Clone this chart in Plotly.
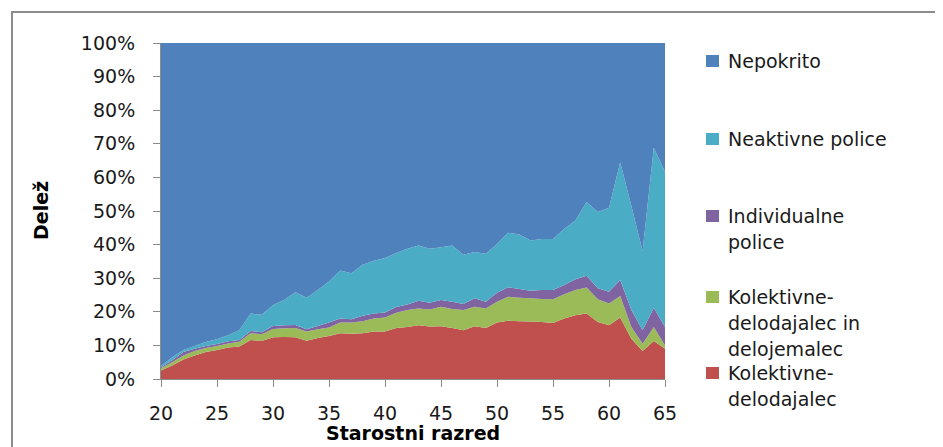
import plotly.graph_objects as go

# starostni razred (leta)
ages = list(range(20, 66))

# delez po vrsti kritja, v %
kol_delodajalec = [2.5, 4.0, 5.8, 7.0, 8.0, 8.6, 9.4, 9.7, 11.6, 11.3,
                   12.4, 12.5, 12.4, 11.4, 12.2, 12.8, 13.6, 13.5, 13.6, 14.1,
                   14.1, 15.2, 15.5, 16.0, 15.6, 15.7, 15.2, 14.5, 15.7, 15.2,
                   16.8, 17.3, 17.2, 17.1, 17.0, 16.7, 18.0, 19.0, 19.5, 17.0,
                   16.0, 18.3, 12.0, 8.3, 11.3, 9.0]
kol_del_in_delojemalec = [0.7, 1.0, 1.2, 1.3, 1.2, 1.2, 1.2, 1.4, 2.0, 2.0,
                          2.5, 2.6, 2.8, 2.7, 2.6, 2.5, 3.2, 3.3, 3.6, 3.9,
                          4.2, 4.5, 5.0, 5.0, 5.1, 5.8, 5.6, 6.0, 5.8, 5.8,
                          6.2, 7.2, 7.0, 6.9, 6.8, 7.0, 7.2, 7.5, 7.7, 6.7,
                          6.5, 6.4, 3.5, 2.2, 4.2, 1.0]
individualne = [0.3, 0.6, 1.0, 0.7, 0.6, 0.6, 0.6, 0.5, 0.7, 0.6,
                0.9, 0.9, 0.9, 0.7, 1.0, 1.5, 1.2, 1.0, 1.6, 1.5,
                1.5, 1.7, 1.7, 2.3, 2.0, 2.0, 2.2, 1.8, 2.5, 2.0,
                2.7, 2.8, 2.6, 2.3, 2.7, 2.8, 2.8, 3.2, 3.5, 3.3,
                3.5, 4.8, 5.0, 4.0, 5.7, 5.5]
neaktivne = [0.4, 0.9, 0.6, 0.8, 1.2, 1.4, 1.8, 3.0, 5.2, 5.2,
             6.2, 7.5, 9.7, 9.4, 10.7, 12.2, 14.3, 13.7, 15.2, 15.7,
             16.2, 16.1, 16.6, 16.4, 16.1, 15.7, 16.7, 14.7, 13.8, 14.3,
             14.5, 16.2, 16.2, 14.9, 15.2, 15.2, 16.7, 17.5, 22.0, 22.7,
             25.0, 35.0, 31.0, 23.5, 47.6, 46.1]
nepokrito = [96.1, 93.5, 91.4, 90.2, 89.0, 88.2, 87.0, 85.4, 80.5, 80.9,
             78.0, 76.5, 74.2, 75.8, 73.5, 71.0, 67.7, 68.5, 66.0, 64.8,
             64.0, 62.5, 61.2, 60.3, 61.2, 60.8, 60.3, 63.0, 62.2, 62.7,
             59.8, 56.5, 57.0, 58.8, 58.3, 58.3, 55.3, 52.8, 47.3, 50.3,
             49.0, 35.5, 48.5, 62.0, 31.2, 38.4]

y_ticks = list(range(0, 101, 10))
y_ticktext = [f"{v}%" for v in y_ticks]

names = ["Kolektivne-delodajalec", "Kolektivne-delodajalec in delojemalec",
         "Individualne police", "Neaktivne police", "Nepokrito"]
values = [kol_delodajalec, kol_del_in_delojemalec, individualne, neaktivne, nepokrito]
colors = ["#C0504D", "#9BBB59", "#8064A2", "#4BACC6", "#4F81BD"]

# legend text as it wraps in the original (top to bottom)
legend_lines = {
    "Nepokrito": ["Nepokrito"],
    "Neaktivne police": ["Neaktivne police"],
    "Individualne police": ["Individualne", "police"],
    "Kolektivne-delodajalec in delojemalec": ["Kolektivne-", "delodajalec in", "delojemalec"],
    "Kolektivne-delodajalec": ["Kolektivne-", "delodajalec"],
}
legend_top_px = {"Nepokrito": 61, "Neaktivne police": 139, "Individualne police": 216,
                 "Kolektivne-delodajalec in delojemalec": 297,
                 "Kolektivne-delodajalec": 373}

# page body adds ~8px offset, so the figure is drawn a bit smaller
OFF = 8
W, H = 943 - OFF, 447 - OFF
L, R, T, B = 161, 665, 43, 379   # plot box in screenshot pixels
FONT = "DejaVu Sans"

fig = go.Figure()
for name, vals, col in zip(names, values, colors):
    fig.add_trace(go.Scatter(x=ages, y=vals, name=name, mode="none",
                             stackgroup="one", groupnorm="percent",
                             fillcolor=col, showlegend=False))


def px_x(px):
    return (px - L) / (R - L)


def px_y(py):
    return (B - py) / (B - T)


shapes = [dict(type="rect", xref="paper", yref="paper",
               x0=px_x(12), x1=px_x(960), y0=px_y(470), y1=px_y(12),
               line=dict(color="#8c8c8c", width=2), fillcolor="rgba(0,0,0,0)",
               layer="below")]
annotations = []
for name, col in zip(names, colors):
    y0 = legend_top_px[name]
    shapes.append(dict(type="rect", xref="paper", yref="paper",
                       x0=px_x(706), x1=px_x(719), y0=px_y(y0 + 6), y1=px_y(y0 - 6),
                       fillcolor=col, line=dict(width=0)))
    for i, line in enumerate(legend_lines[name]):
        annotations.append(dict(text=line, xref="paper", yref="paper",
                                x=px_x(726), y=px_y(y0 + i * 26),
                                xanchor="left", yanchor="middle", showarrow=False,
                                font=dict(family=FONT, size=19, color="#1a1a1a")))

annotations.append(dict(text="<b>Delež</b>", xref="paper", yref="paper",
                        x=px_x(41), y=0.5, textangle=-90, showarrow=False,
                        xanchor="center", yanchor="middle",
                        font=dict(family=FONT, size=19, color="black")))
annotations.append(dict(text="<b>Starostni razred</b>", xref="paper", yref="paper",
                        x=0.5, y=px_y(433), showarrow=False,
                        xanchor="center", yanchor="middle",
                        font=dict(family=FONT, size=19, color="black")))

fig.update_layout(
    width=W, height=H,
    margin=dict(l=L - OFF, r=W + OFF - R, t=T - OFF, b=H + OFF - B),
    paper_bgcolor="white", plot_bgcolor="white",
    font=dict(family=FONT, size=19, color="#1a1a1a"),
    shapes=shapes, annotations=annotations,
)
fig.update_xaxes(range=[20, 65], tick0=20, dtick=5, showgrid=False, zeroline=False,
                 showline=True, linecolor="#8c8c8c", linewidth=1,
                 ticks="outside", ticklen=7, tickcolor="#8c8c8c",
                 ticklabelstandoff=10, automargin=False)
fig.update_yaxes(range=[0, 100], tickvals=y_ticks, ticktext=y_ticktext,
                 showgrid=False, zeroline=False,
                 showline=True, linecolor="#8c8c8c", linewidth=1,
                 ticks="outside", ticklen=7, tickcolor="#8c8c8c",
                 ticklabelstandoff=14, automargin=False)

fig.write_html("out.html")
